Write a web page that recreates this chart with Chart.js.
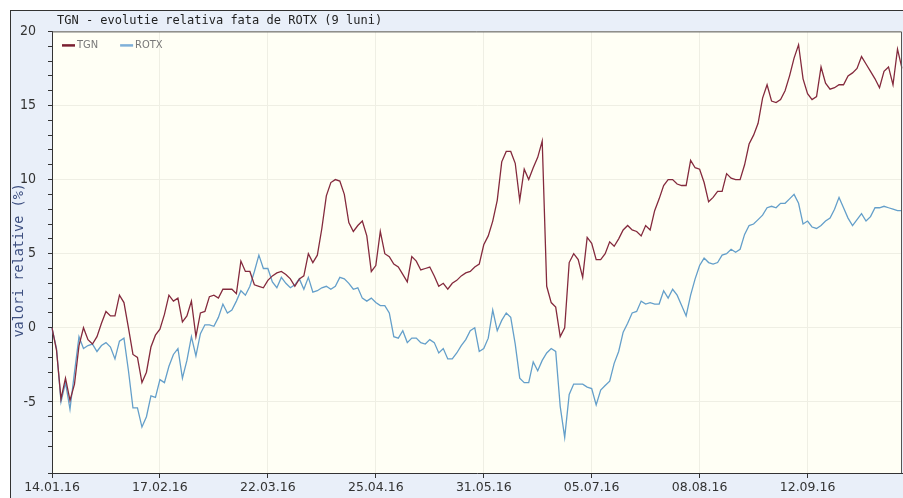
<!DOCTYPE html>
<html>
<head>
<meta charset="utf-8">
<script src="https://cdn.jsdelivr.net/npm/chart.js@4.4.1/dist/chart.umd.min.js"></script>
<style>
    html, body { margin: 0; padding: 0; background: #ffffff; }
    #frame {
        position: absolute; left: 10px; top: 10px; width: 892px; height: 487px;
        border-left: 1px solid #333; border-top: 1px solid #333;
        background: #e9eff9; overflow: hidden;
    }
    #title {
        position: absolute; left: 46px; top: 2px;
        font: 12px 'DejaVu Sans Mono', monospace; color: #222; white-space: pre;
    }
    #chart { position: absolute; left: 0; top: 0; }
</style>
</head>
<body>
<div id="frame">
    <canvas id="chart" width="892" height="487"></canvas>
    <div id="title">TGN - evolutie relativa fata de ROTX (9 luni)</div>
</div>
<script>
// etichete de pe axa X (o eticheta la fiecare 24 de sedinte)
const dateLabels = ['14.01.16', '17.02.16', '22.03.16', '25.04.16', '31.05.16', '05.07.16', '08.08.16', '12.09.16'];
const labelStep = 24;

// evolutie relativa (%) - TGN
const tgnValues = [
    0, -1.5, -4.8, -3.4, -4.9, -3.8, -1.2, 0, -0.8, -1.1,
    -0.6, 0.3, 1.1, 0.8, 0.8, 2.2, 1.7, 0, -1.8, -2.0,
    -3.7, -3.0, -1.3, -0.5, -0.1, 0.9, 2.2, 1.8, 2.0, 0.4,
    0.8, 1.8, -0.6, 1.0, 1.1, 2.1, 2.2, 2.0, 2.6, 2.6,
    2.6, 2.3, 4.5, 3.8, 3.8, 2.9, 2.8, 2.7, 3.2, 3.5,
    3.7, 3.8, 3.6, 3.3, 2.8, 3.3, 3.5, 5.0, 4.4, 4.9,
    6.7, 8.9, 9.8, 10.0, 9.9, 9.0, 7.1, 6.5, 6.9, 7.2,
    6.2, 3.8, 4.2, 6.5, 5.0, 4.8, 4.3, 4.1, 3.6, 3.1,
    4.8, 4.5, 3.9, 4.0, 4.1, 3.5, 2.8, 3.0, 2.6, 3.0,
    3.2, 3.5, 3.7, 3.8, 4.1, 4.3, 5.6, 6.2, 7.2, 8.6,
    11.2, 11.9, 11.9, 11.1, 8.6, 10.7, 10.0, 10.8, 11.5, 12.6,
    2.8, 1.7, 1.4, -0.6, 0, 4.4, 5.0, 4.6, 3.4, 6.1,
    5.7, 4.6, 4.6, 5.0, 5.8, 5.5, 6.0, 6.6, 6.9, 6.6,
    6.5, 6.2, 6.9, 6.6, 7.9, 8.7, 9.6, 10.0, 10.0, 9.7,
    9.6, 9.6, 11.3, 10.8, 10.7, 9.8, 8.5, 8.8, 9.2, 9.2,
    10.4, 10.1, 10.0, 10.0, 11.0, 12.4, 13.0, 13.8, 15.5, 16.4,
    15.3, 15.2, 15.4, 16.0, 17.0, 18.2, 19.1, 16.8, 15.8, 15.4,
    15.6, 17.6, 16.5, 16.1, 16.2, 16.4, 16.4, 17.0, 17.2, 17.5,
    18.3, 17.8, 17.3, 16.8, 16.2, 17.3, 17.6, 16.4, 18.8, 17.5
];

// evolutie relativa (%) - ROTX
const rotxValues = [
    0, -1.4, -5.0, -3.7, -5.5, -3.0, -0.6, -1.4, -1.2, -1.1,
    -1.6, -1.2, -1.0, -1.3, -2.1, -0.9, -0.7, -2.9, -5.4, -5.4,
    -6.7, -6.0, -4.6, -4.7, -3.5, -3.7, -2.6, -1.8, -1.4, -3.4,
    -2.2, -0.6, -1.9, -0.4, 0.2, 0.2, 0.1, 0.7, 1.6, 1.0,
    1.2, 1.8, 2.5, 2.2, 2.8, 3.8, 4.9, 4.0, 4.0, 3.1,
    2.7, 3.4, 3.0, 2.7, 2.9, 3.3, 2.6, 3.4, 2.4, 2.5,
    2.7, 2.8, 2.6, 2.8, 3.4, 3.3, 3.0, 2.6, 2.7, 2.0,
    1.8, 2.0, 1.7, 1.5, 1.5, 1.0, -0.6, -0.7, -0.2, -1.0,
    -0.7, -0.7, -1.0, -1.1, -0.8, -1.0, -1.7, -1.4, -2.1, -2.1,
    -1.7, -1.2, -0.8, -0.2, 0, -1.6, -1.4, -0.7, 1.2, -0.2,
    0.5, 1.0, 0.7, -1.1, -3.4, -3.7, -3.7, -2.3, -2.9, -2.2,
    -1.7, -1.4, -1.6, -5.3, -7.4, -4.5, -3.8, -3.8, -3.8, -4.0,
    -4.1, -5.2, -4.2, -3.9, -3.6, -2.4, -1.6, -0.3, 0.3, 1.0,
    1.1, 1.8, 1.6, 1.7, 1.6, 1.6, 2.5, 2.0, 2.6, 2.2,
    1.5, 0.8, 2.2, 3.3, 4.2, 4.7, 4.4, 4.3, 4.4, 4.9,
    5.0, 5.3, 5.1, 5.3, 6.3, 6.9, 7.0, 7.3, 7.6, 8.1,
    8.2, 8.1, 8.4, 8.4, 8.7, 9.0, 8.4, 7.0, 7.2, 6.8,
    6.7, 6.9, 7.2, 7.4, 8.0, 8.8, 8.1, 7.4, 6.9, 7.3,
    7.7, 7.2, 7.5, 8.1, 8.1, 8.2, 8.1, 8.0, 7.9, 7.9
];

// o categorie pe sedinta, doar unele au eticheta
const categories = tgnValues.map((_, i) =>
    i % labelStep === 0 && dateLabels[i / labelStep] ? dateLabels[i / labelStep] : '');

const narrowFont = "'Liberation Sans Narrow', 'DejaVu Sans Condensed', 'DejaVu Sans', sans-serif";

// fundal crem, chenar zona de grafic si legenda in interior
const plotFrame = {
    id: 'plotFrame',
    beforeDraw(chart) {
        const { ctx, chartArea: a } = chart;
        ctx.save();
        ctx.fillStyle = '#fffff5';
        ctx.fillRect(a.left, a.top, a.right - a.left, a.bottom - a.top);
        ctx.restore();
    },
    afterDraw(chart) {
        const { ctx, chartArea: a } = chart;
        ctx.save();
        ctx.strokeStyle = '#555';
        ctx.lineWidth = 1;
        ctx.beginPath();
        ctx.moveTo(a.left, a.top + 0.5);
        ctx.lineTo(a.right - 0.5, a.top + 0.5);
        ctx.lineTo(a.right - 0.5, a.bottom);
        ctx.stroke();

        // legenda
        let x = a.left + 10;
        const y = a.top + 14;
        ctx.font = '11px ' + narrowFont;
        ctx.textBaseline = 'middle';
        chart.data.datasets.forEach(ds => {
            ctx.strokeStyle = ds.legendColor;
            ctx.lineWidth = 2.5;
            ctx.beginPath();
            ctx.moveTo(x, y);
            ctx.lineTo(x + 13, y);
            ctx.stroke();
            ctx.fillStyle = '#777';
            ctx.fillText(ds.label, x + 15, y);
            x += 15 + ctx.measureText(ds.label).width + 22;
        });
        ctx.restore();
    }
};

new Chart(document.getElementById('chart'), {
    type: 'line',
    data: {
        labels: categories,
        datasets: [
            { label: 'TGN', data: tgnValues, borderColor: '#842a3d', legendColor: '#7a1f30', borderWidth: 1.3, pointRadius: 0, tension: 0 },
            { label: 'ROTX', data: rotxValues, borderColor: '#649fca', legendColor: '#7fb0d8', borderWidth: 1.3, pointRadius: 0, tension: 0 }
        ]
    },
    options: {
        responsive: false,
        animation: false,
        devicePixelRatio: 1,
        layout: { padding: { top: 20, right: 1, left: 0, bottom: 0 } },
        plugins: { legend: { display: false }, tooltip: { enabled: false }, title: { display: false } },
        scales: {
            x: {
                offset: false,
                afterBuildTicks: scale => { scale.ticks = scale.ticks.filter(t => categories[t.value] !== ''); },
                afterFit: scale => { scale.height = 25; },
                grid: { color: '#efefe4', tickColor: '#333', tickLength: 5, drawOnChartArea: true },
                border: { color: '#333', width: 1 },
                ticks: { autoSkip: false, maxRotation: 0, padding: 2, color: '#333', font: { family: 'DejaVu Sans', size: 12.5 } }
            },
            y: {
                min: -9.8,
                max: 20,
                afterFit: scale => { scale.width = 41; },
                grid: {
                    color: ctx => (ctx.tick && ctx.tick.value % 5 === 0 ? '#efefe4' : 'transparent'),
                    tickColor: '#333',
                    tickLength: 4
                },
                border: { color: '#333', width: 1 },
                ticks: {
                    stepSize: 1,
                    autoSkip: false,
                    padding: 12,
                    color: '#333',
                    font: { family: narrowFont, size: 14 },
                    callback: v => (Number.isInteger(v) && v % 5 === 0 ? String(v) : '')
                },
                title: {
                    display: true,
                    text: 'valori relative (%)  ',
                    color: '#3d4f80',
                    padding: { top: 0, bottom: 0 },
                    font: { family: 'DejaVu Sans Mono', size: 13.5 }
                }
            }
        }
    },
    plugins: [plotFrame]
});
</script>
</body>
</html>
